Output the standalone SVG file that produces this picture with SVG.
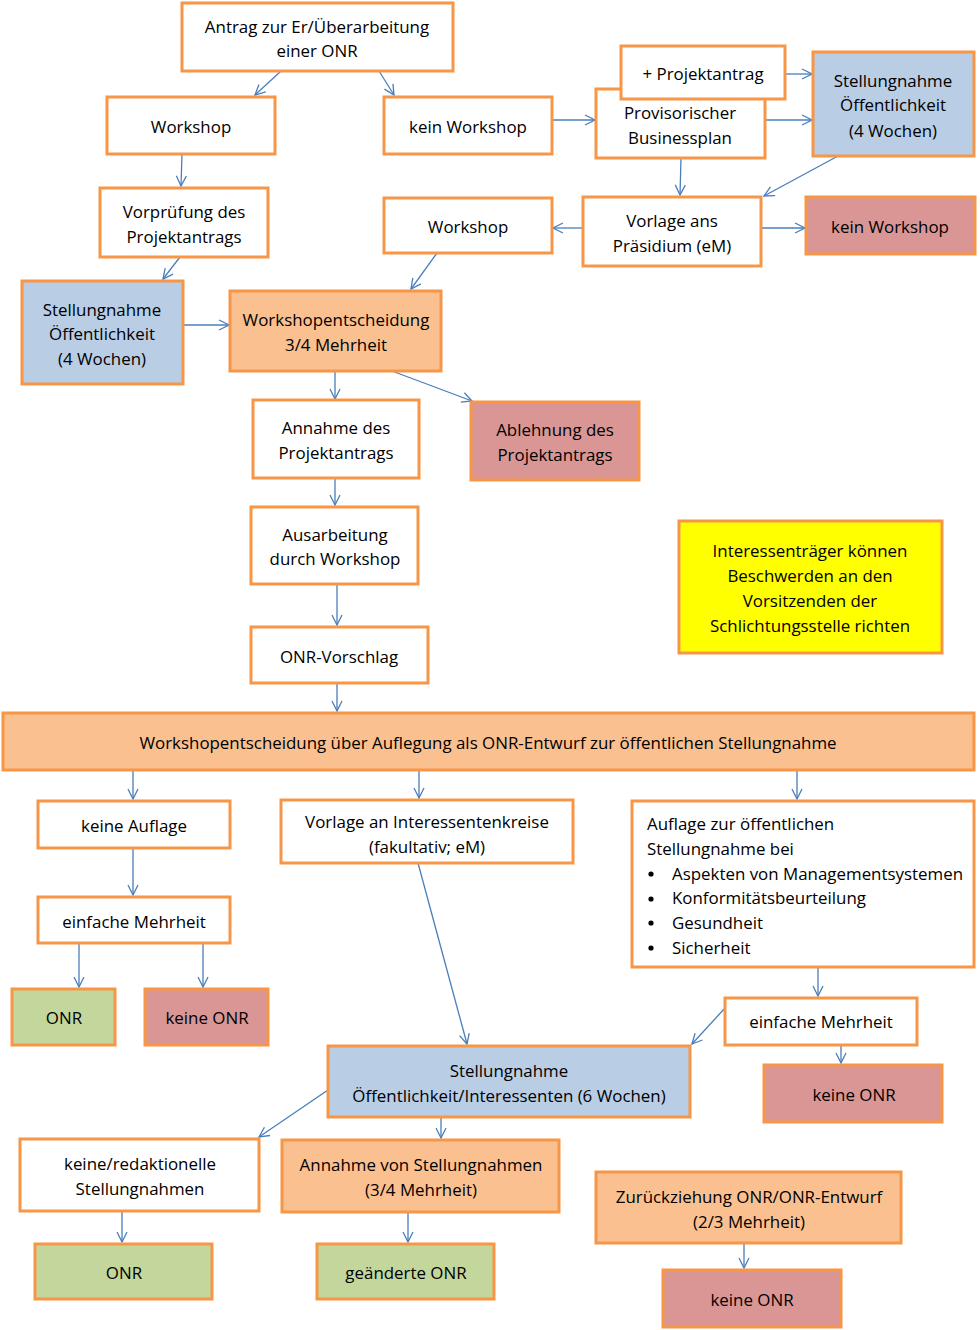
<svg xmlns="http://www.w3.org/2000/svg" width="980" height="1330" viewBox="0 0 980 1330">
<style>
.b{stroke:#F79646;stroke-width:3;fill:#FFFFFF}
.o{fill:#FAC090}.bl{fill:#B9CDE5}.r{fill:#D99694}.g{fill:#C3D69B}.y{fill:#FFFF00}
text{font-family:"Open Sans","Noto Sans","DejaVu Sans",sans-serif;font-size:16.9px;fill:#000;text-anchor:middle}
.l{text-anchor:start}
#connectors line{stroke:#4A7EBB;stroke-width:1.3;fill:none;marker-end:url(#ah)}
</style>
<defs>
<marker id="ah" viewBox="0 0 12 12" refX="11" refY="6" markerWidth="12" markerHeight="12" markerUnits="userSpaceOnUse" orient="auto">
<path d="M1,1 L11,6 L1,11" fill="none" stroke="#4A7EBB" stroke-width="1.3"/>
</marker>
</defs>
<rect width="980" height="1330" fill="#FFFFFF"/>
<g id="connectors">
<line x1="281" y1="71" x2="255" y2="95"/>
<line x1="379" y1="71" x2="394" y2="95"/>
<line x1="552" y1="120" x2="595" y2="120"/>
<line x1="785" y1="74" x2="812" y2="74"/>
<line x1="765" y1="120" x2="812" y2="120"/>
<line x1="681" y1="158" x2="680" y2="195"/>
<line x1="838" y1="156" x2="764" y2="196"/>
<line x1="583" y1="228" x2="553" y2="228"/>
<line x1="761" y1="228" x2="805" y2="228"/>
<line x1="182" y1="154" x2="181" y2="186"/>
<line x1="180" y1="257" x2="163" y2="279"/>
<line x1="437" y1="253" x2="411" y2="289"/>
<line x1="183" y1="325" x2="229" y2="325"/>
<line x1="335" y1="371" x2="335" y2="399"/>
<line x1="392" y1="371" x2="472" y2="401"/>
<line x1="335" y1="478" x2="335" y2="505"/>
<line x1="337" y1="584" x2="337" y2="625"/>
<line x1="337" y1="683" x2="337" y2="711"/>
<line x1="133" y1="770" x2="133" y2="799"/>
<line x1="419" y1="770" x2="419" y2="798"/>
<line x1="797" y1="770" x2="797" y2="799"/>
<line x1="133" y1="848" x2="133" y2="895"/>
<line x1="79" y1="943" x2="79" y2="987"/>
<line x1="203" y1="943" x2="203" y2="987"/>
<line x1="418" y1="863" x2="467" y2="1044"/>
<line x1="818" y1="967" x2="818" y2="996"/>
<line x1="725" y1="1008" x2="692" y2="1044"/>
<line x1="841" y1="1045" x2="841" y2="1063"/>
<line x1="328" y1="1090" x2="259" y2="1137"/>
<line x1="441" y1="1117" x2="441" y2="1138"/>
<line x1="122" y1="1211" x2="122" y2="1242"/>
<line x1="408" y1="1212" x2="408" y2="1242"/>
<line x1="744" y1="1243" x2="744" y2="1268"/>
</g>
<g id="n1"><rect class="b" x="182" y="3" width="271" height="68"/><text x="317" y="33">Antrag zur Er/Überarbeitung</text><text x="317" y="57">einer ONR</text></g>
<g id="n2"><rect class="b" x="107" y="97" width="168" height="57"/><text x="191" y="133">Workshop</text></g>
<g id="n3"><rect class="b" x="384" y="97" width="168" height="57"/><text x="468" y="133">kein Workshop</text></g>
<g id="n5"><rect class="b" x="596" y="89" width="169" height="69"/><text x="680" y="119">Provisorischer</text><text x="680" y="144">Businessplan</text></g>
<g id="n4"><rect class="b" x="621" y="46" width="164" height="53"/><text x="703" y="80">+ Projektantrag</text></g>
<g id="n6"><rect class="b bl" x="813" y="52" width="161" height="104"/><text x="893" y="87">Stellungnahme</text><text x="893" y="111">Öffentlichkeit</text><text x="893" y="137">(4 Wochen)</text></g>
<g id="n7"><rect class="b" x="100" y="188" width="168" height="69"/><text x="184" y="218">Vorprüfung des</text><text x="184" y="243">Projektantrags</text></g>
<g id="n8"><rect class="b" x="384" y="198" width="168" height="55"/><text x="468" y="233">Workshop</text></g>
<g id="n9"><rect class="b" x="583" y="197" width="178" height="69"/><text x="672" y="227">Vorlage ans</text><text x="672" y="252">Präsidium (eM)</text></g>
<g id="n10"><rect class="b r" x="806" y="197" width="169" height="57"/><text x="890" y="233">kein Workshop</text></g>
<g id="n11"><rect class="b bl" x="22" y="281" width="161" height="103"/><text x="102" y="316">Stellungnahme</text><text x="102" y="340">Öffentlichkeit</text><text x="102" y="365">(4 Wochen)</text></g>
<g id="n12"><rect class="b o" x="230" y="291" width="211" height="80"/><text x="336" y="326">Workshopentscheidung</text><text x="336" y="351">3/4 Mehrheit</text></g>
<g id="n13"><rect class="b" x="253" y="400" width="166" height="78"/><text x="336" y="434">Annahme des</text><text x="336" y="459">Projektantrags</text></g>
<g id="n14"><rect class="b r" x="471" y="402" width="168" height="78"/><text x="555" y="436">Ablehnung des</text><text x="555" y="461">Projektantrags</text></g>
<g id="n15"><rect class="b" x="251" y="507" width="167" height="77"/><text x="335" y="541">Ausarbeitung</text><text x="335" y="565">durch Workshop</text></g>
<g id="n16"><rect class="b y" x="679" y="521" width="263" height="132"/><text x="810" y="557">Interessenträger können</text><text x="810" y="582">Beschwerden an den</text><text x="810" y="607">Vorsitzenden der</text><text x="810" y="632">Schlichtungsstelle richten</text></g>
<g id="n17"><rect class="b" x="251" y="627" width="177" height="56"/><text x="339" y="663">ONR-Vorschlag</text></g>
<g id="n18"><rect class="b o" x="3" y="713" width="971" height="57"/><text x="488" y="749">Workshopentscheidung über Auflegung als ONR-Entwurf zur öffentlichen Stellungnahme</text></g>
<g id="n19"><rect class="b" x="38" y="801" width="192" height="47"/><text x="134" y="832">keine Auflage</text></g>
<g id="n20"><rect class="b" x="281" y="800" width="292" height="63"/><text x="427" y="828">Vorlage an Interessentenkreise</text><text x="427" y="853">(fakultativ; eM)</text></g>
<g id="n21"><rect class="b" x="632" y="801" width="342" height="166"/><text class="l" x="647" y="830">Auflage zur öffentlichen</text><text class="l" x="647" y="855">Stellungnahme bei</text><circle cx="651" cy="874" r="2.6"/><text class="l" x="672" y="880">Aspekten von Managementsystemen</text><circle cx="651" cy="899" r="2.6"/><text class="l" x="672" y="904">Konformitätsbeurteilung</text><circle cx="651" cy="923" r="2.6"/><text class="l" x="672" y="929">Gesundheit</text><circle cx="651" cy="948" r="2.6"/><text class="l" x="672" y="954">Sicherheit</text></g>
<g id="n22"><rect class="b" x="38" y="897" width="192" height="46"/><text x="134" y="928">einfache Mehrheit</text></g>
<g id="n23"><rect class="b g" x="12" y="989" width="103" height="56"/><text x="64" y="1024">ONR</text></g>
<g id="n24"><rect class="b r" x="145" y="989" width="123" height="56"/><text x="207" y="1024">keine ONR</text></g>
<g id="n25"><rect class="b" x="725" y="998" width="192" height="47"/><text x="821" y="1028">einfache Mehrheit</text></g>
<g id="n26"><rect class="b bl" x="328" y="1046" width="362" height="71"/><text x="509" y="1077">Stellungnahme</text><text x="509" y="1102">Öffentlichkeit/Interessenten (6 Wochen)</text></g>
<g id="n27"><rect class="b r" x="764" y="1065" width="178" height="57"/><text x="854" y="1101">keine ONR</text></g>
<g id="n28"><rect class="b" x="20" y="1139" width="239" height="72"/><text x="140" y="1170">keine/redaktionelle</text><text x="140" y="1195">Stellungnahmen</text></g>
<g id="n29"><rect class="b o" x="282" y="1140" width="277" height="72"/><text x="421" y="1171">Annahme von Stellungnahmen</text><text x="421" y="1196">(3/4 Mehrheit)</text></g>
<g id="n30"><rect class="b o" x="596" y="1172" width="305" height="71"/><text x="749" y="1203">Zurückziehung ONR/ONR-Entwurf</text><text x="749" y="1228">(2/3 Mehrheit)</text></g>
<g id="n31"><rect class="b g" x="35" y="1244" width="177" height="55"/><text x="124" y="1279">ONR</text></g>
<g id="n32"><rect class="b g" x="317" y="1244" width="177" height="55"/><text x="406" y="1279">geänderte ONR</text></g>
<g id="n33"><rect class="b r" x="663" y="1270" width="178" height="57"/><text x="752" y="1306">keine ONR</text></g>
</svg>
